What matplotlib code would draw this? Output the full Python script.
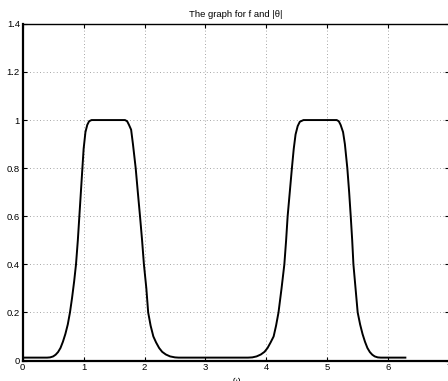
import matplotlib
matplotlib.use("Agg")
import matplotlib.pyplot as plt

omega = [0.00, 0.40, 0.45, 0.50, 0.54, 0.58, 0.62, 0.66, 0.70, 0.74, 0.776, 0.81, 0.845,
         0.875, 0.905, 0.93, 0.955, 0.98, 1.00, 1.03, 1.06, 1.09, 1.13, 1.40, 1.68,
         1.715, 1.745, 1.78, 1.81, 1.855, 1.89, 1.926, 1.96, 1.99, 2.03, 2.06, 2.10,
         2.145, 2.19, 2.24, 2.29, 2.35, 2.42, 2.50, 2.56, 3.14, 3.70, 3.77, 3.84, 3.91,
         3.97, 4.02, 4.07, 4.12, 4.16, 4.20, 4.25, 4.296, 4.325, 4.35, 4.385, 4.42,
         4.45, 4.48, 4.515, 4.55, 4.61, 4.88, 5.156, 5.19, 5.22, 5.26, 5.29, 5.33,
         5.36, 5.386, 5.41, 5.43, 5.465, 5.50, 5.54, 5.58, 5.62, 5.66, 5.70, 5.74,
         5.78, 5.83, 5.88, 6.283]
values = [0.012, 0.012, 0.013, 0.017, 0.024, 0.035, 0.052, 0.078, 0.11, 0.15, 0.20, 0.26, 0.33,
          0.40, 0.50, 0.60, 0.70, 0.80, 0.88, 0.95, 0.98, 0.995, 1.0, 1.0, 1.0,
          0.995, 0.98, 0.96, 0.90, 0.80, 0.70, 0.60, 0.50, 0.40, 0.30, 0.20, 0.145,
          0.10, 0.075, 0.052, 0.036, 0.025, 0.017, 0.013, 0.012, 0.012, 0.012, 0.013, 0.017, 0.025,
          0.036, 0.052, 0.075, 0.10, 0.145, 0.20, 0.30, 0.40, 0.50, 0.60, 0.70, 0.80,
          0.88, 0.94, 0.975, 0.993, 1.0, 1.0, 1.0, 0.995, 0.98, 0.95, 0.90, 0.80,
          0.70, 0.60, 0.50, 0.40, 0.30, 0.20, 0.15, 0.11, 0.078, 0.052, 0.035, 0.024,
          0.017, 0.013, 0.012, 0.012]

xticks = [0, 1, 2, 3, 4, 5, 6, 7]
yticks = [0, 0.2, 0.4, 0.6, 0.8, 1, 1.2, 1.4]
ytick_labels = ["0", "0.2", "0.4", "0.6", "0.8", "1", "1.2", "1.4"]

plt.rcParams['font.family'] = ['Liberation Sans', 'DejaVu Sans']

fig = plt.figure(figsize=(4.48, 3.81), dpi=100)
ax = fig.add_axes([0.0507, 0.0538, 0.9516, 0.8835])
ax.plot(omega, values, color='black', linewidth=1.4)
ax.set_xlim(0, 7)
ax.set_ylim(0, 1.4)
ax.set_xticks(xticks)
ax.set_yticks(yticks)
ax.set_yticklabels(ytick_labels)
ax.grid(True, linestyle=(0, (1, 3)), color='#888888', linewidth=0.6)
ax.tick_params(direction='in', length=3, width=0.8, top=True, right=True,
               labelsize=6.8, pad=2)
for s in ax.spines.values():
    s.set_linewidth(1.0)
ax.spines['left'].set_linewidth(1.6)
ax.spines['bottom'].set_linewidth(1.6)
ax.set_title("The graph for f and |θ|", fontsize=6.8, pad=5)
ax.set_xlabel("ω", fontsize=6.8, labelpad=3)
fig.savefig("out.png", dpi=100)
